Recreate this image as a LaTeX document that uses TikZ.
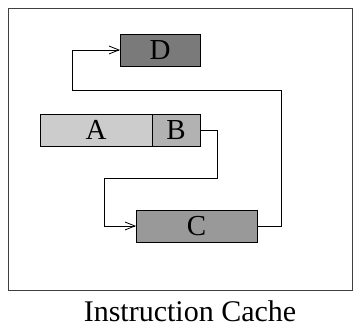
\documentclass[tikz,border=0pt]{standalone}
\usepackage{fontspec}
\setmainfont{Liberation Serif}
\usetikzlibrary{arrows.meta}
\definecolor{cA}{gray}{0.80}
\definecolor{cB}{gray}{0.70}
\definecolor{cC}{gray}{0.60}
\definecolor{cD}{gray}{0.48}
\begin{document}
\begin{tikzpicture}[x=1pt,y=-1pt,
  block/.style={draw=black, line width=0.9pt, inner sep=0pt, outer sep=0pt,
    font=\fontsize{29}{29}\selectfont},
  link/.style={draw=black, line width=0.8pt},
  tip/.style={-{Straight Barb[length=10pt,width=8pt,line width=0.8pt]}}]
\useasboundingbox (0,0) rectangle (353,328);
% cache frame
\draw[line width=1pt, draw=black!75] (8,9) rectangle (352,291);
% blocks (x from left edge, y from top)
\node[block, fill=cD, minimum width=80pt, minimum height=32pt] (D) at (160,50) {D};
\node[block, fill=cA, minimum width=112pt, minimum height=32pt] (A) at (96,130) {A};
\node[block, fill=cB, minimum width=48pt, minimum height=32pt, anchor=west] (B) at (A.east) {B};
\node[block, fill=cC, minimum width=121pt, minimum height=32pt] (C) at (196.5,226) {C};
% B -> C
\draw[link, tip] (B.east) -- ++(17,0) |- (104,178) |- (C.west);
% C -> D
\draw[link, tip] (C.east) -- (281,226) |- (72,90) |- (D.west);
% caption
\node[font=\fontsize{30}{30}\selectfont] (cap) at (190,311) {Instruction Cache};
\end{tikzpicture}
\end{document}
